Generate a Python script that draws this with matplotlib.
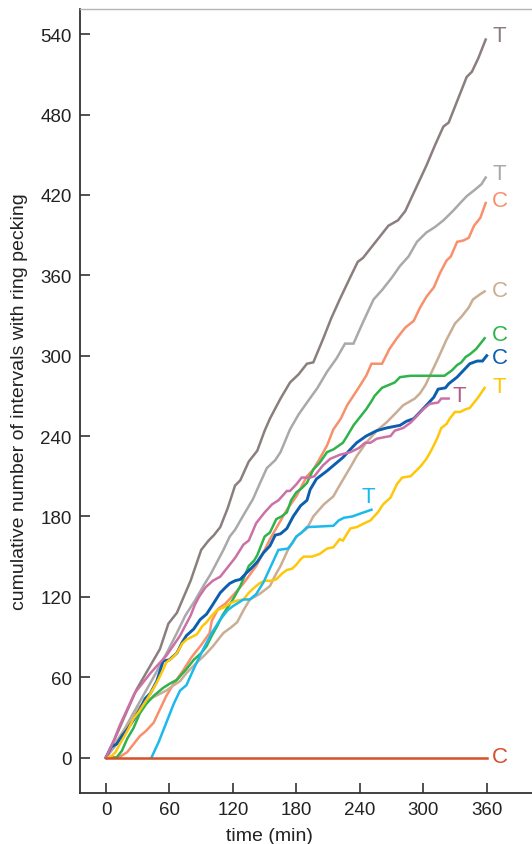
#!/usr/bin/env python
# -*- coding: utf-8 -*-
import matplotlib
matplotlib.use("Agg")
import matplotlib.pyplot as plt

# cumulative counts: (time in min, count) per bird
grey_t = [0, 10, 20, 29, 40, 51, 59, 67, 80, 90, 97, 102, 108, 115, 122, 127, 135, 143, 150, 155,
          165, 174, 182, 190, 196, 205, 213, 221, 230, 238, 243, 251, 262, 267, 276, 283, 293, 303,
          311, 319, 324, 332, 341, 346, 352, 359]
grey_v = [0, 17, 35, 51, 66, 81, 100, 108, 132, 155, 162, 166, 172, 186, 203, 207, 221, 229, 244, 253,
          268, 280, 286, 294, 295, 312, 328, 342, 357, 370, 373, 381, 392, 397, 401, 408, 425, 442,
          457, 471, 474, 490, 508, 512, 522, 536]

lightgrey_t = [0, 8, 16, 25, 35, 45, 54, 60, 67, 75, 84, 92, 99, 105, 111, 117, 122, 130, 139, 144,
               152, 160, 165, 174, 182, 190, 200, 209, 218, 226, 234, 243, 253, 261, 270, 278, 286,
               294, 303, 311, 319, 328, 335, 341, 349, 355, 359]
lightgrey_v = [0, 8, 19, 32, 46, 60, 73, 82, 93, 106, 117, 128, 137, 146, 155, 165, 170, 181, 193, 202,
               216, 222, 228, 245, 256, 265, 276, 288, 298, 309, 309, 325, 342, 349, 358, 367, 374,
               385, 392, 396, 401, 408, 414, 419, 424, 428, 433]

salmon_t = [0, 12, 20, 26, 32, 38, 45, 51, 57, 64, 72, 81, 90, 98, 100, 106, 113, 120, 130, 142, 150,
            155, 163, 171, 180, 190, 196, 202, 209, 215, 222, 228, 238, 246, 251, 261, 268, 275, 283,
            291, 297, 303, 310, 316, 322, 326, 332, 338, 343, 348, 354, 359]
salmon_v = [0, 0, 4, 10, 16, 20, 26, 36, 46, 55, 64, 75, 84, 93, 102, 111, 115, 121, 130, 143, 155,
            163, 174, 185, 195, 210, 215, 223, 233, 245, 253, 263, 275, 285, 294, 294, 305, 313, 321,
            326, 336, 344, 351, 362, 371, 374, 385, 386, 388, 397, 403, 414]

tan_t = [0, 7, 14, 20, 26, 32, 40, 47, 57, 64, 70, 76, 86, 94, 101, 111, 118, 124, 130, 136, 145, 155,
         160, 165, 172, 180, 190, 196, 206, 215, 220, 226, 232, 237, 246, 256, 265, 275, 281, 292, 297,
         302, 308, 314, 322, 330, 336, 343, 347, 354, 358]
tan_v = [0, 9, 17, 24, 31, 38, 43, 46, 50, 54, 57, 63, 71, 77, 83, 93, 97, 101, 110, 118, 122, 128,
         136, 143, 155, 165, 171, 180, 189, 195, 202, 210, 218, 225, 235, 244, 250, 258, 263, 268, 272,
         278, 288, 298, 312, 324, 329, 336, 342, 346, 348]

green_t = [0, 10, 15, 20, 26, 32, 38, 45, 54, 60, 67, 76, 83, 90, 95, 100, 105, 110, 114, 120, 127,
           135, 140, 143, 150, 155, 161, 166, 171, 175, 180, 185, 190, 196, 202, 209, 215, 224, 228,
           234, 240, 246, 251, 254, 261, 267, 273, 278, 288, 320, 327, 332, 336, 340, 344, 350, 355, 358]
green_v = [0, 0, 5, 14, 22, 33, 40, 46, 52, 55, 58, 66, 73, 78, 83, 91, 98, 106, 111, 118, 128,
           143, 147, 151, 165, 168, 178, 180, 183, 192, 198, 201, 205, 215, 220, 228, 230, 235, 240,
           248, 254, 260, 266, 270, 276, 278, 280, 284, 285, 285, 289, 293, 295, 299, 301, 305, 310, 313]

blue_t = [0, 5, 10, 15, 20, 26, 32, 37, 42, 48, 54, 60, 67, 72, 76, 83, 89, 95, 100, 104, 108, 113,
          117, 122, 127, 133, 137, 143, 149, 155, 160, 165, 171, 177, 184, 190, 193, 199, 209, 218,
          224, 231, 237, 246, 256, 265, 278, 284, 291, 297, 303, 310, 314, 321, 324, 332, 338, 344,
          351, 356, 360]
blue_v = [0, 8, 10, 16, 21, 28, 36, 44, 48, 57, 72, 73, 78, 86, 91, 96, 103, 107, 113, 118, 123, 127,
          130, 132, 133, 138, 141, 146, 153, 158, 166, 167, 171, 180, 188, 192, 200, 208, 214, 220,
          224, 230, 235, 240, 244, 246, 248, 251, 253, 258, 263, 269, 275, 276, 279, 284, 289, 294,
          296, 296, 300]

yellow_t = [0, 5, 9, 13, 16, 21, 26, 31, 35, 40, 48, 53, 57, 62, 67, 72, 76, 81, 86, 91, 95, 100,
            105, 111, 117, 123, 130, 135, 139, 145, 150, 156, 161, 166, 171, 176, 180, 184, 187, 195,
            202, 209, 215, 221, 224, 231, 237, 242, 250, 257, 262, 269, 275, 280, 288, 297, 303, 308,
            313, 317, 322, 325, 330, 335, 340, 344, 352, 358]
yellow_v = [0, 1, 4, 10, 14, 21, 29, 34, 39, 45, 56, 64, 71, 74, 78, 85, 88, 90, 92, 98, 101, 106,
            110, 112, 115, 117, 118, 123, 126, 130, 132, 132, 133, 137, 140, 141, 144, 148, 150, 150,
            152, 156, 157, 163, 162, 171, 172, 174, 177, 183, 189, 194, 204, 209, 210, 217, 223, 230,
            238, 246, 249, 253, 258, 258, 260, 261, 269, 276]

pink_t = [0, 7, 13, 20, 27, 32, 37, 42, 50, 57, 64, 70, 76, 80, 84, 88, 94, 101, 108, 114, 122, 130,
          135, 142, 150, 157, 163, 171, 174, 180, 185, 193, 197, 205, 212, 221, 231, 239, 245, 250,
          256, 262, 269, 273, 281, 288, 294, 300, 306, 314, 317, 324]
pink_v = [0, 12, 24, 36, 48, 53, 58, 63, 70, 76, 84, 91, 100, 106, 114, 120, 127, 132, 135, 141, 149,
          159, 162, 175, 183, 189, 192, 199, 199, 204, 209, 209, 210, 218, 223, 226, 228, 231, 235,
          235, 238, 239, 240, 244, 246, 250, 255, 260, 264, 265, 268, 268]

cyan_t = [43, 50, 57, 64, 70, 76, 84, 92, 100, 108, 115, 120, 130, 136, 142, 149, 156, 163, 172, 176,
          180, 185, 190, 215, 220, 225, 233, 240, 251]
cyan_v = [0, 12, 26, 40, 50, 54, 68, 81, 93, 103, 110, 113, 118, 118, 122, 131, 143, 155, 156, 160,
          165, 168, 172, 173, 177, 179, 180, 182, 185]

red_t = [0, 360]
red_v = [0, 0]

# treatment label at the end of each curve
labels = ["T", "T", "C", "C", "C", "C", "T", "T", "T", "C"]
label_x = [372, 372, 372, 372, 372, 372, 372, 334, 248, 372]
label_y = [539, 436, 416, 349, 316, 299, 277, 270, 195, 1]

x_ticks = [0, 60, 120, 180, 240, 300, 360]
y_ticks = [0, 60, 120, 180, 240, 300, 360, 420, 480, 540]

series = [
    (grey_t, grey_v, "#8b7f7e", "#8b7f7e"),
    (lightgrey_t, lightgrey_v, "#a9a9ab", "#a9a9ab"),
    (salmon_t, salmon_v, "#f8906c", "#f8906c"),
    (tan_t, tan_v, "#c9ad95", "#c9ad95"),
    (green_t, green_v, "#2fb34c", "#2fb34c"),
    (blue_t, blue_v, "#0c5fae", "#0c5fae"),
    (yellow_t, yellow_v, "#ffc70a", "#ffc70a"),
    (pink_t, pink_v, "#cc70a6", "#b45f80"),
    (cyan_t, cyan_v, "#1cb9ec", "#1cb9ec"),
    (red_t, red_v, "#d5502b", "#d5502b"),
]

plt.rcParams["font.family"] = ["Liberation Sans", "DejaVu Sans"]

fig = plt.figure(figsize=(5.32, 8.45), dpi=100)
ax = fig.add_axes([80 / 532, 51.5 / 845, 452 / 532, 783.5 / 845])

for i, (t, v, line_col, text_col) in enumerate(series):
    lw = 2.1 if line_col == "#0c5fae" else 1.8
    ax.plot(t, v, color=line_col, lw=lw, solid_joinstyle="miter", zorder=3 + (i == 9))
    ax.text(label_x[i], label_y[i], labels[i], color=text_col, fontsize=16,
            ha="center", va="center")

ax.set_xlim(-24.6, 402.8)
ax.set_ylim(-26.1, 558.8)
ax.set_xticks(x_ticks)
ax.set_yticks(y_ticks)
ax.tick_params(direction="in", length=7, width=1.2, color="#333333", labelsize=13.5,
               labelcolor="#222222", pad=6)

for side in ["left", "bottom"]:
    ax.spines[side].set_color("#333333")
    ax.spines[side].set_linewidth(1.3)
ax.spines["right"].set_visible(False)
ax.spines["top"].set_color("#b5b5b5")
ax.spines["top"].set_linewidth(1.0)

ax.set_xlabel("time (min)", fontsize=14, color="#222222")
ax.set_ylabel("cumulative number of intervals with ring pecking", fontsize=14, color="#222222")
ax.xaxis.set_label_coords(0.42, -0.044)
ax.yaxis.set_label_coords(-0.115, 0.5)

fig.savefig("out.png", dpi=100)
